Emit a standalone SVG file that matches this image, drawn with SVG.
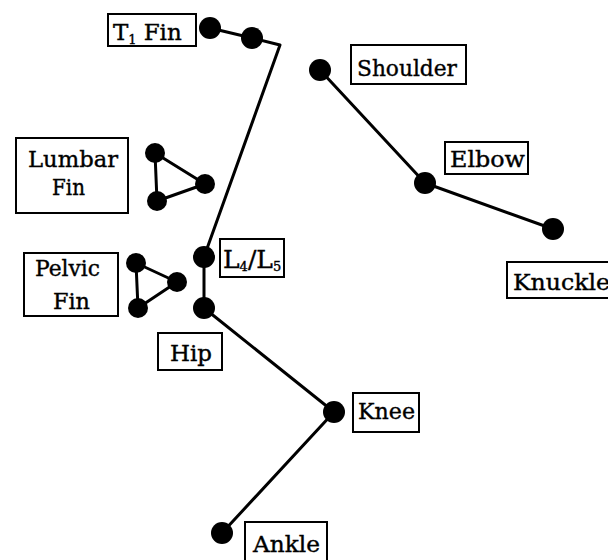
<svg xmlns="http://www.w3.org/2000/svg" width="608" height="560" viewBox="0 0 608 560">
<style>
.lbl{fill:#fff;stroke:#000;stroke-width:2}
.t{font-family:"DejaVu Serif","Liberation Serif",serif;font-size:23px;fill:#000;stroke:#000;stroke-width:0.4}
.s{font-size:13px}
.e{stroke:#000;stroke-width:3;fill:none;stroke-linecap:round;stroke-linejoin:round}
.d{fill:#000}
</style>
<rect width="608" height="560" fill="#fff"/>
<g id="connectors" class="e">
<polyline points="210,28 252,38 280,45 204,257"/>
<line x1="204" y1="257" x2="204" y2="308"/>
<line x1="204" y1="308" x2="334" y2="412"/>
<line x1="334" y1="412" x2="222" y2="533"/>
<line x1="320" y1="70" x2="425" y2="183"/>
<line x1="425" y1="183" x2="553" y2="229"/>
<polygon points="155,153 205,184 157,201"/>
<polygon points="136,263 177,282 138,308"/>
</g>
<g id="t1fin"><rect class="lbl" x="108" y="14" width="88" height="32"/><text class="t" x="113" y="40">T<tspan class="s" dy="4">1</tspan><tspan dy="-4" dx="7">Fin</tspan></text><circle class="d" cx="210" cy="28" r="11"/><circle class="d" cx="252" cy="38" r="11"/></g>
<g id="shoulder"><rect class="lbl" x="351" y="45" width="115" height="39"/><text class="t" x="357" y="76" textLength="100" lengthAdjust="spacingAndGlyphs">Shoulder</text><circle class="d" cx="320" cy="70" r="11"/></g>
<g id="elbow"><rect class="lbl" x="445" y="142" width="83" height="32"/><text class="t" x="450" y="167" textLength="75" lengthAdjust="spacingAndGlyphs">Elbow</text><circle class="d" cx="425" cy="183" r="11"/></g>
<g id="knuckle"><rect class="lbl" x="507" y="262" width="110" height="36"/><text class="t" x="513" y="290" textLength="97" lengthAdjust="spacingAndGlyphs">Knuckle</text><circle class="d" cx="553" cy="229" r="11"/></g>
<g id="lumbarfin"><rect class="lbl" x="16" y="138" width="112" height="75"/><text class="t" x="28" y="167" textLength="90" lengthAdjust="spacingAndGlyphs">Lumbar</text><text class="t" x="52" y="195" textLength="33" lengthAdjust="spacingAndGlyphs">Fin</text><circle class="d" cx="155" cy="153" r="10"/><circle class="d" cx="205" cy="184" r="10"/><circle class="d" cx="157" cy="201" r="10"/></g>
<g id="pelvicfin"><rect class="lbl" x="24" y="253" width="94" height="63"/><text class="t" x="35" y="276" textLength="65" lengthAdjust="spacingAndGlyphs">Pelvic</text><text class="t" x="53" y="309" textLength="37" lengthAdjust="spacingAndGlyphs">Fin</text><circle class="d" cx="136" cy="263" r="10"/><circle class="d" cx="177" cy="282" r="10"/><circle class="d" cx="138" cy="308" r="10"/></g>
<g id="l4l5"><rect class="lbl" x="220" y="239" width="64" height="38"/><text class="t" x="223" y="268" style="font-size:25px">L<tspan class="s" dy="3">4</tspan><tspan dy="-3">/L</tspan><tspan class="s" dy="3">5</tspan></text><circle class="d" cx="204" cy="257" r="11"/></g>
<g id="hip"><rect class="lbl" x="158" y="333" width="64" height="37"/><text class="t" x="170" y="361" textLength="42" lengthAdjust="spacingAndGlyphs">Hip</text><circle class="d" cx="204" cy="308" r="11"/></g>
<g id="knee"><rect class="lbl" x="353" y="393" width="66" height="39"/><text class="t" x="358" y="419" textLength="57" lengthAdjust="spacingAndGlyphs">Knee</text><circle class="d" cx="334" cy="412" r="11"/></g>
<g id="ankle"><rect class="lbl" x="245" y="522" width="82" height="45"/><text class="t" x="253" y="552" textLength="67" lengthAdjust="spacingAndGlyphs">Ankle</text><circle class="d" cx="222" cy="533" r="11"/></g>
</svg>
